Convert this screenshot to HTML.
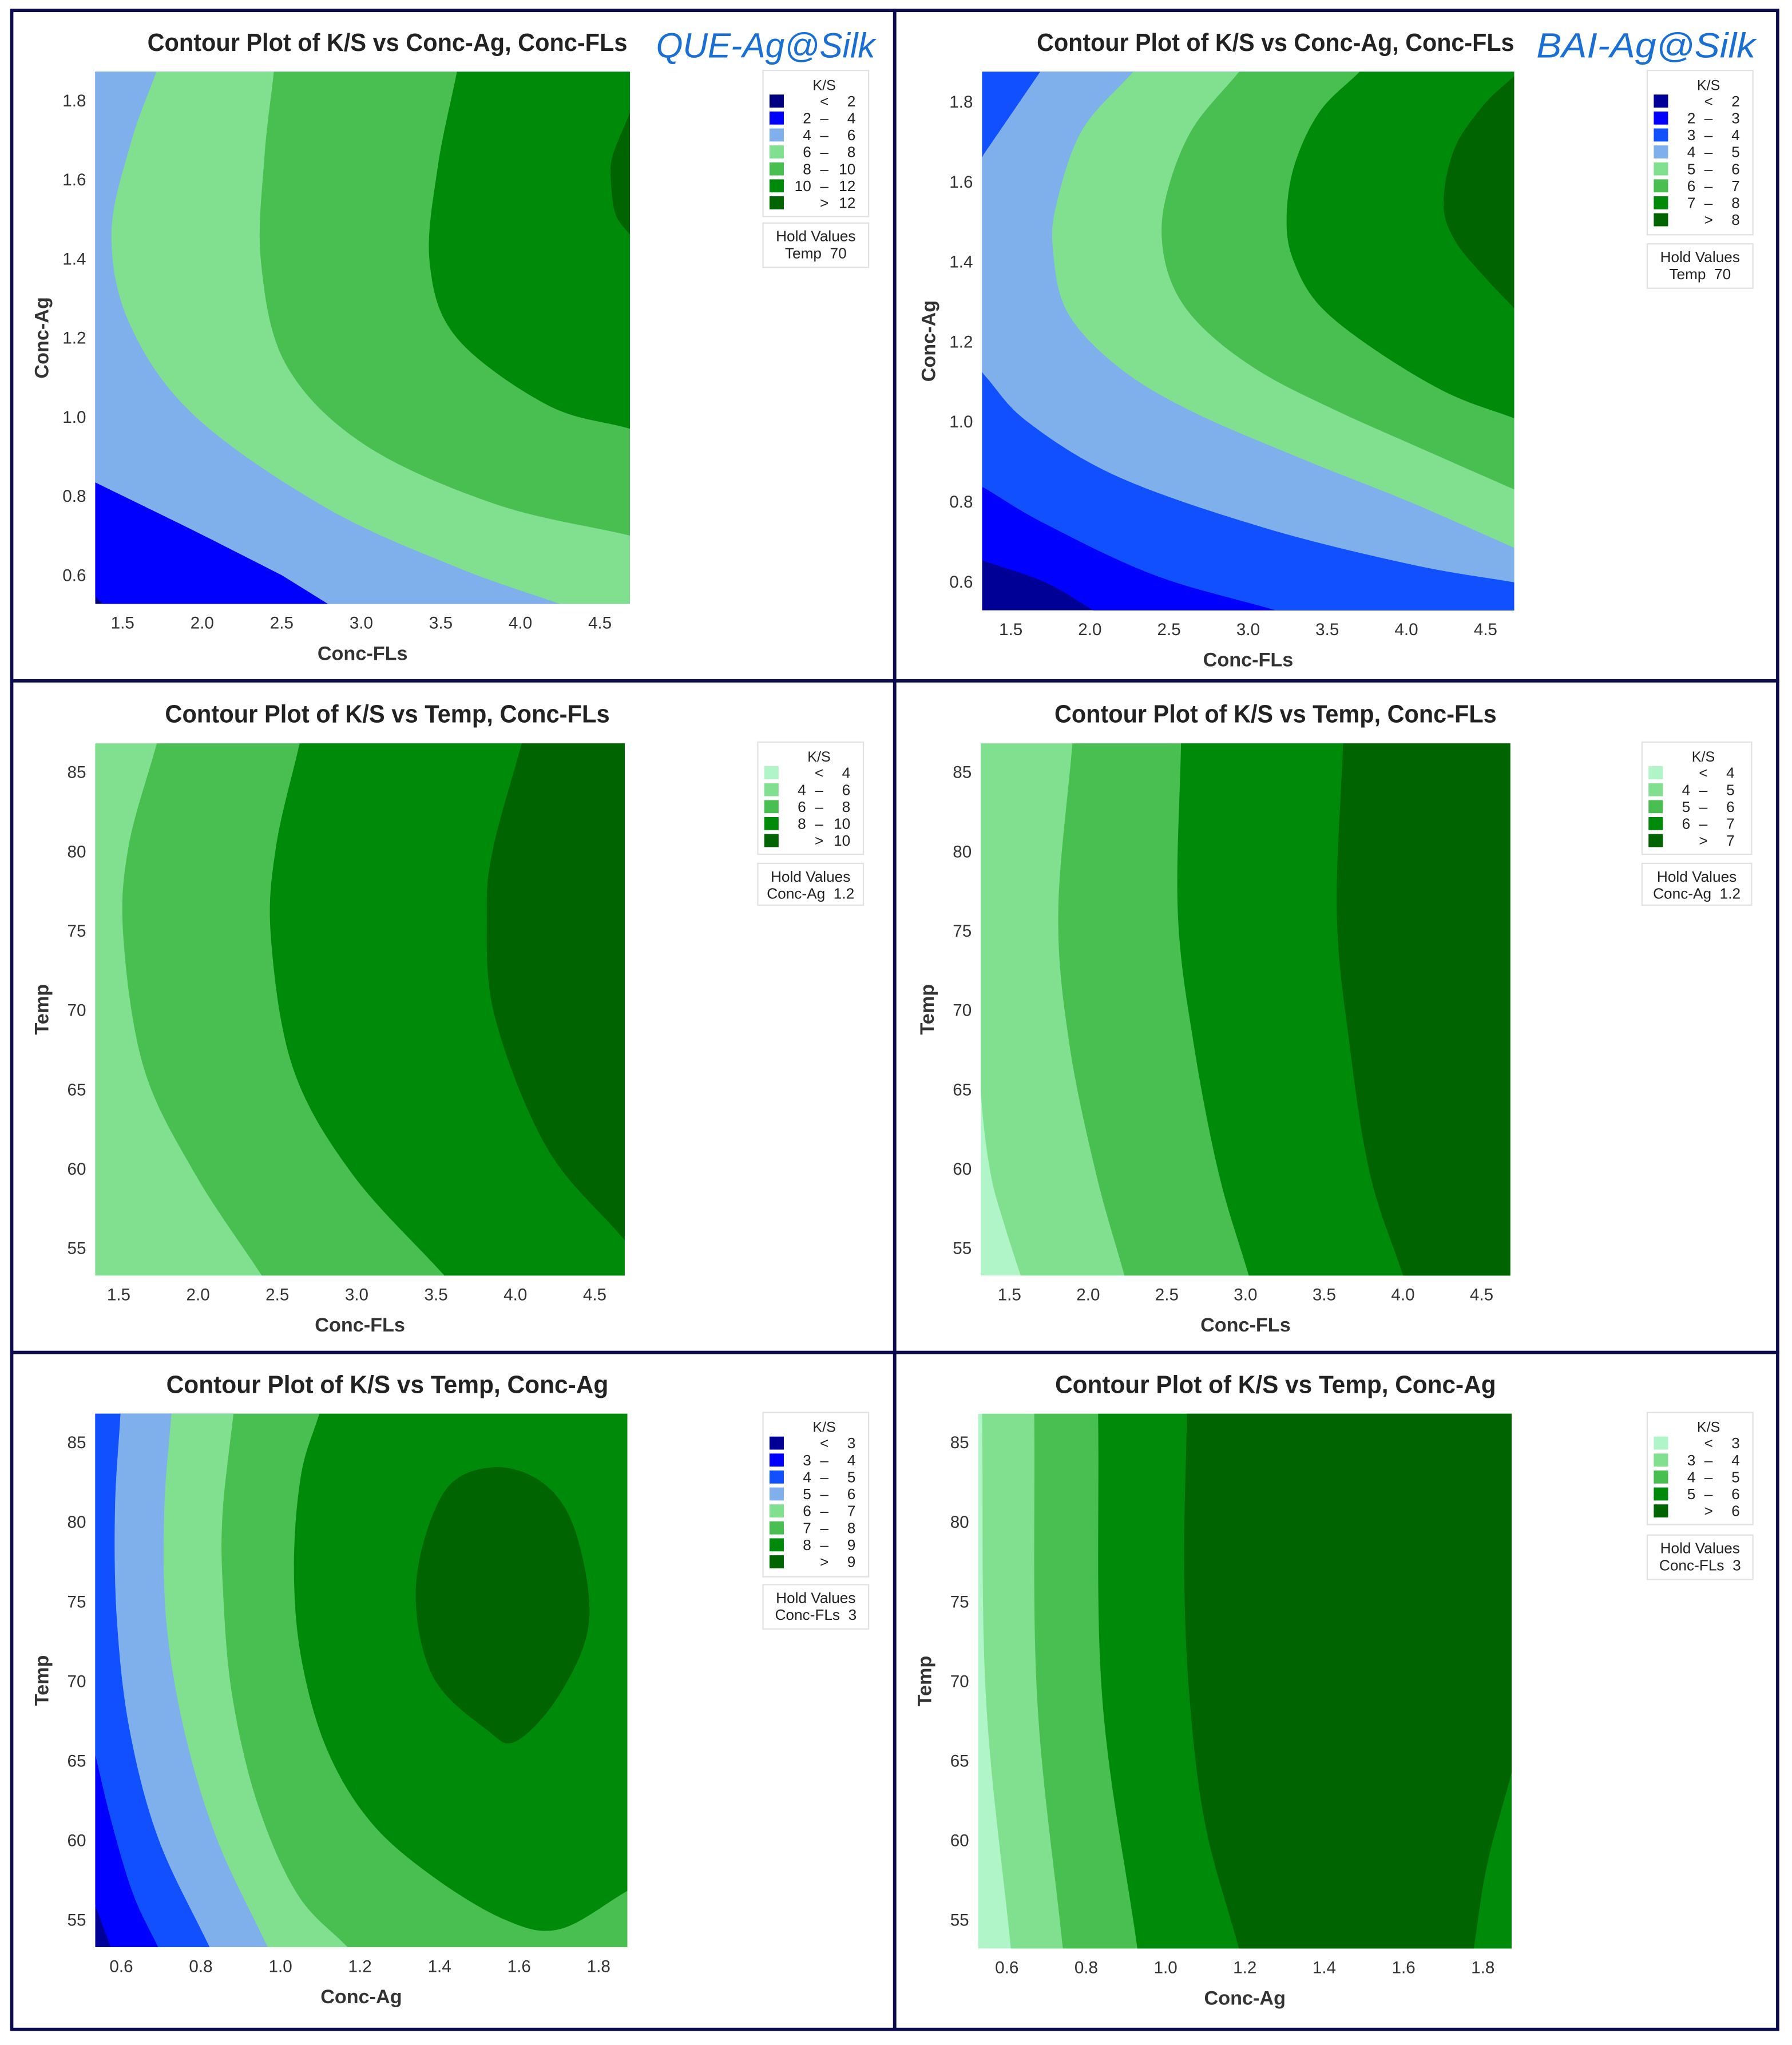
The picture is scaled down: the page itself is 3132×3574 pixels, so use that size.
<!DOCTYPE html>
<html><head><meta charset="utf-8"><title>Contour Plots of K/S</title>
<style>html,body{margin:0;padding:0;background:#fff}svg{display:block}text{font-family:"Liberation Sans",sans-serif}</style>
</head><body>
<svg id="fig" xmlns="http://www.w3.org/2000/svg" width="3132" height="3574" viewBox="0 0 1374 1568" preserveAspectRatio="none"></svg>
<script>
// ===== DATA (contour boundaries in data units; each polygon = region above that level) =====
const p1Levels=[2,4,6,8,10,12];
const p1Colors=["#000080","#0000ff","#7fb0ec","#80e090","#48bf50","#008a0a","#006400"];
const p1Contours=[
 [[1.1,0.57],[1.33,0.545],[1.45,0.50],[1.5,0.4],[5,0.4],[5,2],[1.1,2]],
 [[1.1,0.88],[1.33,0.834],[1.96,0.71],[2.5,0.6],[2.82,0.52],[2.9,0.4],[5,0.4],[5,2],[1.1,2]],
 [[1.78,2],[1.71,1.87],[1.55,1.69],[1.43,1.46],[1.55,1.23],[1.96,1.0],[2.78,0.77],[3.6,0.62],[4.25,0.527],[4.4,0.48],[5,0.4],[5,2]],
 [[2.47,2],[2.45,1.87],[2.39,1.65],[2.37,1.39],[2.53,1.13],[3.02,0.93],[3.84,0.78],[4.69,0.70],[5,0.66],[5,2]],
 [[3.62,2],[3.6,1.87],[3.48,1.63],[3.43,1.39],[3.6,1.2],[4.17,1.03],[4.69,0.97],[5,0.95],[5,2]],
 [[5,1.8],[4.69,1.77],[4.58,1.66],[4.57,1.59],[4.6,1.51],[4.69,1.46],[5,1.43]]
];
const p2Levels=[2,3,4,5,6,7,8];
const p2Colors=["#000096","#0000ff","#1050ff","#7fb0ec","#80e090","#48bf50","#008a0a","#006400"];
const p2Contours=[
 [[1.1,0.68],[1.33,0.652],[1.72,0.598],[2.02,0.529],[2.1,0.4],[5,0.4],[5,2],[1.1,2]],
 [[1.1,0.86],[1.33,0.835],[1.72,0.744],[2.41,0.616],[3.17,0.529],[3.3,0.4],[5,0.4],[5,2],[1.1,2]],
 [[1.75,2],[1.686,1.875],[1.33,1.669],[1.1,1.5],[1.1,1.25],[1.33,1.118],[1.605,1.0],[2.18,0.862],[3.10,0.735],[4.03,0.643],[4.685,0.598],[5,0.57],[5,2]],
 [[2.33,2],[2.274,1.875],[1.951,1.729],[1.79,1.546],[1.767,1.428],[1.859,1.273],[2.182,1.136],[2.643,1.026],[3.335,0.908],[4.03,0.798],[4.685,0.684],[5,0.66],[5,2]],
 [[3.0,2],[2.943,1.875],[2.643,1.729],[2.482,1.564],[2.459,1.437],[2.551,1.318],[2.759,1.218],[3.105,1.118],[3.566,1.026],[4.03,0.944],[4.685,0.830],[5,0.80],[5,2]],
 [[3.8,2],[3.705,1.875],[3.45,1.774],[3.289,1.637],[3.243,1.501],[3.289,1.4],[3.45,1.291],[3.797,1.181],[4.258,1.072],[4.685,1.008],[5,0.98],[5,2]],
 [[5,1.9],[4.685,1.865],[4.489,1.792],[4.304,1.683],[4.235,1.546],[4.304,1.455],[4.489,1.364],[4.685,1.282],[5,1.25]]
];
const p3Levels=[4,6,8,10];
const p3Colors=["#b0f5c8","#80e090","#48bf50","#008a0a","#006400"];
const p3Contours=[
 [[1.0,90],[1.0,50],[5,50],[5,90]],
 [[1.78,90],[1.74,86.8],[1.56,80.2],[1.53,74.5],[1.66,66.3],[1.98,59.7],[2.40,53.3],[2.45,50],[5,50],[5,90]],
 [[2.68,90],[2.64,86.8],[2.49,80.2],[2.46,74.5],[2.60,66.3],[2.97,59.7],[3.55,53.3],[3.6,50],[5,50],[5,90]],
 [[4.08,90],[4.04,86.8],[3.86,80.2],[3.82,76.1],[3.87,69.6],[4.20,61.3],[4.68,55.6],[5,53],[5,90]]
];
const p4Levels=[4,5,6,7];
const p4Colors=["#b0f5c8","#80e090","#48bf50","#008a0a","#006400"];
const p4Contours=[
 [[1.2,90],[1.3,86.8],[1.31,70],[1.32,64.6],[1.38,59.7],[1.47,56.4],[1.57,53.3],[1.6,50],[5,50],[5,90]],
 [[1.92,90],[1.90,86.8],[1.81,76.1],[1.88,67.9],[2.05,59.7],[2.23,53.3],[2.26,50],[5,50],[5,90]],
 [[2.61,90],[2.59,86.8],[2.57,76.1],[2.67,67.9],[2.83,59.7],[3.02,53.3],[3.05,50],[5,50],[5,90]],
 [[3.64,90],[3.62,86.8],[3.58,76.1],[3.66,67.9],[3.79,59.7],[4.0,53.3],[4.03,50],[5,50],[5,90]]
];
const p5Levels=[3,4,5,6,7,8,9];
const p5Colors=["#000096","#0000ff","#1050ff","#7fb0ec","#80e090","#48bf50","#008a0a","#006400"];
const p5Contours=[
 [[0.4,90],[0.4,57],[0.531,56.14],[0.575,53.2],[0.6,50],[2,50],[2,90]],
 [[0.4,90],[0.4,66],[0.531,65.77],[0.575,61.18],[0.63,56.6],[0.694,53.2],[0.72,50],[2,50],[2,90]],
 [[0.6,90],[0.598,86.82],[0.584,80.68],[0.589,73.8],[0.621,66.92],[0.694,60.04],[0.823,53.23],[0.86,50],[2,50],[2,90]],
 [[0.73,90],[0.726,86.82],[0.708,80.68],[0.713,73.8],[0.758,66.92],[0.841,60.04],[0.969,53.23],[1.0,50],[2,50],[2,90]],
 [[0.89,90],[0.882,86.82],[0.855,80.68],[0.855,76.09],[0.878,69.21],[0.942,62.33],[1.043,56.6],[1.171,53.23],[1.2,50],[2,50],[2,90]],
 [[1.11,90],[1.098,86.82],[1.052,82.97],[1.034,77.24],[1.052,71.5],[1.116,65.77],[1.226,61.18],[1.382,57.74],[1.565,55.0],[1.703,54.42],[1.873,56.83],[2,57],[2,90]],
 [[1.529,83.43],[1.41,81.82],[1.341,76.09],[1.382,70.36],[1.52,66.92],[1.593,66.23],[1.703,69.21],[1.776,73.8],[1.74,79.53],[1.657,82.51]]
];
const p6Levels=[3,4,5,6];
const p6Colors=["#b0f5c8","#80e090","#48bf50","#008a0a","#006400"];
const p6Contours=[
 [[0.54,90],[0.5375,86.8],[0.547,69.1],[0.61,53.2],[0.62,50],[2,50],[2,90]],
 [[0.67,90],[0.669,86.8],[0.676,69.1],[0.741,53.2],[0.75,50],[2,50],[2,90]],
 [[0.83,90],[0.830,86.8],[0.840,69.1],[0.929,53.2],[0.94,50],[2,50],[2,90]],
 [[1.055,90],[1.054,86.8],[1.047,77.3],[1.060,69.1],[1.10,61],[1.185,53.2],[1.2,50],[1.72,50],[1.777,53.2],[1.81,58.4],[1.872,64.2],[2,66],[2,90]]
];
const flsTicks=[1.5,2.0,2.5,3.0,3.5,4.0,4.5];
const agTicks=[0.6,0.8,1.0,1.2,1.4,1.6,1.8];
const tempTicks=[55,60,65,70,75,80,85];

// ===== LAYOUT =====
const NS="http://www.w3.org/2000/svg";
const svg=document.getElementById('fig');
function el(tag,attrs,parent){const e=document.createElementNS(NS,tag);for(const k in attrs)e.setAttribute(k,attrs[k]);(parent||svg).appendChild(e);return e;}
function txt(s,attrs,parent){const t=el('text',attrs,parent);t.textContent=s;return t;}

const panels=[
 {id:'p1',box:[9,8,686,522],rect:[73,55,483,463],xs:[1.5,94,4.5,460],ys:[0.6,441,1.8,77],lv:p1Levels,col:p1Colors,cont:p1Contours,xt:flsTicks,yt:agTicks,xd:1,yd:1,
  title:'Contour Plot of K/S vs Conc-Ag, Conc-FLs',tc:297,ty:39,tw:368,xl:'Conc-FLs',yl:'Conc-Ag',leg:[585,54,81,112],hold:[585,171,81,34],hv:['Temp','70'],tag:'QUE-Ag@Silk',tagx:587},
 {id:'p2',box:[686,8,1363,522],rect:[753,55,1161,468],xs:[1.5,775,4.5,1139],ys:[0.6,446,1.8,78],lv:p2Levels,col:p2Colors,cont:p2Contours,xt:flsTicks,yt:agTicks,xd:1,yd:1,
  title:'Contour Plot of K/S vs Conc-Ag, Conc-FLs',tc:978,ty:39,tw:366,xl:'Conc-FLs',yl:'Conc-Ag',leg:[1263,54,81,126],hold:[1263,187,81,34],hv:['Temp','70'],tag:'BAI-Ag@Silk',tagx:1262},
 {id:'p3',box:[9,522,686,1037],rect:[73,570,479,978],xs:[1.5,91,4.5,456],ys:[55,957,85,592],lv:p3Levels,col:p3Colors,cont:p3Contours,xt:flsTicks,yt:tempTicks,xd:1,yd:0,
  title:'Contour Plot of K/S vs Temp, Conc-FLs',tc:297,ty:554,tw:341,xl:'Conc-FLs',yl:'Temp',leg:[581,569,81,86],hold:[581,662,81,32],hv:['Conc-Ag','1.2']},
 {id:'p4',box:[686,522,1363,1037],rect:[752,570,1158,978],xs:[1.5,774,4.5,1136],ys:[55,957,85,592],lv:p4Levels,col:p4Colors,cont:p4Contours,xt:flsTicks,yt:tempTicks,xd:1,yd:0,
  title:'Contour Plot of K/S vs Temp, Conc-FLs',tc:978,ty:554,tw:339,xl:'Conc-FLs',yl:'Temp',leg:[1259,569,84,86],hold:[1259,662,84,32],hv:['Conc-Ag','1.2']},
 {id:'p5',box:[9,1037,686,1556],rect:[73,1084,481,1493],xs:[0.6,93,1.8,459],ys:[55,1472,85,1106],lv:p5Levels,col:p5Colors,cont:p5Contours,xt:agTicks,yt:tempTicks,xd:1,yd:0,
  title:'Contour Plot of K/S vs Temp, Conc-Ag',tc:297,ty:1068,tw:339,xl:'Conc-Ag',yl:'Temp',leg:[585,1083,81,126],hold:[585,1215,81,34],hv:['Conc-FLs','3']},
 {id:'p6',box:[686,1037,1363,1556],rect:[750,1084,1159,1494],xs:[0.6,772,1.8,1137],ys:[55,1472,85,1106],lv:p6Levels,col:p6Colors,cont:p6Contours,xt:agTicks,yt:tempTicks,xd:1,yd:0,
  title:'Contour Plot of K/S vs Temp, Conc-Ag',tc:978,ty:1068,tw:338,xl:'Conc-Ag',yl:'Temp',leg:[1263,1083,81,86],hold:[1263,1177,81,34],hv:['Conc-FLs','3']}
];

// smooth only through points inside (or on edge of) the plot; outside points joined with straight lines
function smoothPath(pts,r){
  const n=pts.length,tol=2;
  const ins=pts.map(p=>p[0]>=r[0]-tol&&p[0]<=r[2]+tol&&p[1]>=r[1]-tol&&p[1]<=r[3]+tol);
  const f=p=>p[0].toFixed(2)+','+p[1].toFixed(2);
  let d='M'+f(pts[0]);
  for(let i=0;i<n;i++){
    const a=i,b=(i+1)%n,pa=(i-1+n)%n,nb=(i+2)%n;
    const p1=pts[a],p2=pts[b];
    if(ins[a]&&ins[b]){
      const p0=ins[pa]?pts[pa]:[2*p1[0]-p2[0],2*p1[1]-p2[1]];
      const p3=ins[nb]?pts[nb]:[2*p2[0]-p1[0],2*p2[1]-p1[1]];
      const c1=[p1[0]+(p2[0]-p0[0])/6,p1[1]+(p2[1]-p0[1])/6];
      const c2=[p2[0]-(p3[0]-p1[0])/6,p2[1]-(p3[1]-p1[1])/6];
      d+='C'+f(c1)+' '+f(c2)+' '+f(p2);
    } else d+='L'+f(p2);
  }
  return d+'Z';
}
function fmt(v,dec){return dec?v.toFixed(1):String(v);}

panels.forEach(P=>{
  const g=el('g',{});
  
  
  const [bx0,by0,bx1,by1]=P.box;
  const frame=el('rect',{x:bx0,y:by0,width:bx1-bx0,height:by1-by0,fill:'none',stroke:'#0b0b4e','stroke-width':2.5},g);
  
  
  const sx=v=>P.xs[1]+(v-P.xs[0])*(P.xs[3]-P.xs[1])/(P.xs[2]-P.xs[0]);
  const sy=v=>P.ys[1]+(v-P.ys[0])*(P.ys[3]-P.ys[1])/(P.ys[2]-P.ys[0]);
  const [rx0,ry0,rx1,ry1]=P.rect;
  const cp=el('clipPath',{id:'clip-'+P.id},g);
  el('rect',{x:rx0,y:ry0,width:rx1-rx0,height:ry1-ry0},cp);
  const plot=el('g',{'clip-path':'url(#clip-'+P.id+')'},g);
  
  
  const bg=el('rect',{x:rx0,y:ry0,width:rx1-rx0,height:ry1-ry0,fill:P.col[0]},plot);
  
  
  P.cont.forEach((poly,i)=>{
    const pts=poly.map(p=>[sx(p[0]),sy(p[1])]);
    const path=el('path',{d:smoothPath(pts,P.rect),fill:P.col[i+1]},plot);
    
    
  });
  P.xt.forEach(v=>{
    const t=txt(fmt(v,P.xd),{x:sx(v),y:ry1+19,'font-size':13,'text-anchor':'middle',fill:'#333'},g);
    
    
  });
  P.yt.forEach(v=>{
    const t=txt(fmt(v,P.yd),{x:rx0-7,y:sy(v)+4.5,'font-size':13,'text-anchor':'end',fill:'#333'},g);
    
    
  });
  const xt=txt(P.xl,{x:(rx0+rx1)/2,y:ry1+43,'font-size':15,'font-weight':'bold','text-anchor':'middle',fill:'#333'},g);
  
  
  const yc=(ry0+ry1)/2, yx=rx0-36;
  const yt=txt(P.yl,{x:yx,y:yc,'font-size':15,'font-weight':'bold','text-anchor':'middle',fill:'#333',transform:'rotate(-90 '+yx+' '+yc+')'},g);
  
  
  const tt=txt(P.title,{x:P.tc,y:P.ty,'font-size':19,'font-weight':'bold','text-anchor':'middle',fill:'#222',textLength:P.tw,lengthAdjust:'spacingAndGlyphs'},g);
  
  
  if(P.tag){
    const tg=txt(P.tag,{x:P.tagx,y:44,'font-size':27,'font-style':'italic','text-anchor':'middle',fill:'#1a6fd4',textLength:168,lengthAdjust:'spacingAndGlyphs'},g);
    
    
  }
  const [lx,ly,lw,lh]=P.leg;
  const lg=el('g',{},g);
  
  
  el('rect',{x:lx,y:ly,width:lw,height:lh,fill:'#fff',stroke:'#e2e2e2','stroke-width':1},lg);
  txt('K/S',{x:lx+47,y:ly+15,'font-size':11,'text-anchor':'middle',fill:'#222'},lg);
  const labels=[['','<',P.lv[0]]];
  for(let i=0;i<P.lv.length-1;i++)labels.push([P.lv[i],'–',P.lv[i+1]]);
  labels.push(['','>',P.lv[P.lv.length-1]]);
  labels.forEach((lab,i)=>{
    const cy=ly+23.5+i*13;
    const e=el('g',{},lg);
    
    
    el('rect',{x:lx+5,y:cy-5,width:11,height:10,fill:P.col[i]},e);
    txt(String(lab[0]),{x:lx+37,y:cy+4,'font-size':11.5,'text-anchor':'end',fill:'#222'},e);
    txt(lab[1],{x:lx+47,y:cy+4,'font-size':11.5,'text-anchor':'middle',fill:'#222'},e);
    txt(String(lab[2]),{x:lx+71,y:cy+4,'font-size':11.5,'text-anchor':'end',fill:'#222'},e);
  });
  const [hx,hy,hw,hh]=P.hold;
  const hg=el('g',{},g);
  
  
  el('rect',{x:hx,y:hy,width:hw,height:hh,fill:'#fff',stroke:'#e2e2e2','stroke-width':1},hg);
  txt('Hold Values',{x:hx+hw/2,y:hy+14,'font-size':11.5,'text-anchor':'middle',fill:'#222'},hg);
  txt(P.hv[0]+'\u00a0\u00a0'+P.hv[1],{x:hx+hw/2,y:hy+27,'font-size':11.5,'text-anchor':'middle',fill:'#222'},hg);
});
</script>
</body></html>
